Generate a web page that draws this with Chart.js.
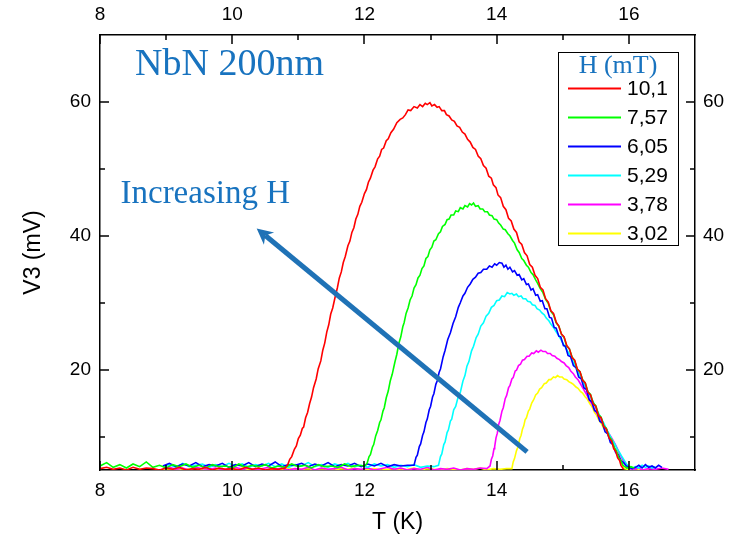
<!DOCTYPE html>
<html>
<head>
<meta charset="utf-8">
<title>NbN 200nm - V3 vs T</title>
<script src="https://cdn.jsdelivr.net/npm/chart.js@4.4.1/dist/chart.umd.min.js"></script>
<style>
  html, body { margin: 0; padding: 0; background: #fff; }
</style>
</head>
<body>
<canvas id="v3Chart" width="738" height="537"></canvas>
<script>
// field values (mT) and trace colours, one per sweep
const fieldLabels = ['10,1', '7,57', '6,05', '5,29', '3,78', '3,02'];
const lineColors = ['#ff0000', '#00ff00', '#0000ff', '#00ffff', '#ff00ff', '#ffff00'];

// axis ticks
const xMajorTicks = [8, 10, 12, 14, 16];
const xMinorTicks = [9, 11, 13, 15];
const yMajorTicks = [20, 40, 60];
const yMinorTicks = [10, 30, 50];

// V3 (mV) against T (K) for each field, [T, V3]
const h101 = [
  [8.0,5.2],[8.1,5.4],[8.2,5.1],[8.3,5.3],[8.4,5.0],[8.5,5.4],[8.6,5.1],[8.7,5.3],[8.8,5.2],[8.9,5.0],
  [9.0,5.3],[9.1,5.1],[9.2,5.4],[9.3,5.0],[9.4,5.2],[9.5,5.1],[9.6,5.4],[9.7,5.0],[9.8,5.3],[9.9,5.1],
  [10.0,5.2],[10.1,5.0],[10.2,5.4],[10.3,5.1],[10.4,5.3],[10.5,5.0],[10.6,5.2],[10.7,5.1],[10.8,5.3],
  [10.84,5.8],[10.87,6.6],[10.9,7.0],[10.94,8.1],[10.97,8.6],[11.0,9.7],[11.03,10.2],[11.06,11.2],[11.08,11.4],
  [11.11,12.8],[11.14,13.6],[11.17,14.9],[11.2,15.9],[11.23,17.3],[11.27,18.6],[11.3,20.1],[11.34,21.3],
  [11.37,22.9],[11.4,24.0],[11.43,25.6],[11.46,26.7],[11.49,28.3],[11.52,29.2],[11.56,31.0],[11.59,32.2],
  [11.62,33.7],[11.65,34.6],[11.68,36.0],[11.71,36.9],[11.75,38.5],[11.78,39.2],[11.81,40.5],[11.84,41.2],
  [11.87,42.5],[11.9,43.2],[11.93,44.4],[11.96,45.0],[12.0,46.3],[12.03,46.9],[12.06,48.0],[12.09,48.6],
  [12.13,49.8],[12.16,50.3],[12.2,51.5],[12.23,51.9],[12.26,52.9],[12.29,53.1],[12.33,54.2],[12.36,54.5],
  [12.4,55.4],[12.44,55.9],[12.49,56.9],[12.54,57.4],[12.58,57.6],[12.62,58.1],[12.66,58.8],[12.7,58.7],
  [12.75,59.3],[12.8,59.1],[12.84,59.6],[12.88,59.3],[12.92,59.8],[12.95,59.6],[12.99,59.9],[13.02,59.4],
  [13.06,59.6],[13.1,59.2],[13.13,59.3],[13.17,58.7],[13.21,58.7],[13.24,58.1],[13.28,57.9],[13.32,57.3],
  [13.36,57.1],[13.4,56.4],[13.44,56.2],[13.48,55.5],[13.52,55.2],[13.56,54.4],[13.6,54.0],[13.64,53.2],
  [13.68,52.9],[13.72,51.9],[13.76,51.5],[13.8,50.5],[13.84,50.1],[13.88,48.9],[13.92,48.6],[13.95,47.6],
  [13.99,47.2],[14.02,46.1],[14.06,45.7],[14.1,44.4],[14.14,43.9],[14.18,42.6],[14.22,42.2],[14.26,41.0],
  [14.3,40.5],[14.34,39.1],[14.38,38.7],[14.42,37.5],[14.46,37.0],[14.5,35.7],[14.54,35.3],[14.58,34.1],
  [14.62,33.6],[14.66,32.3],[14.7,31.9],[14.74,30.6],[14.78,30.1],[14.82,28.8],[14.86,28.4],[14.9,27.1],
  [14.94,26.5],[14.98,25.3],[15.02,24.9],[15.06,23.6],[15.1,23.1],[15.14,21.8],[15.18,21.4],[15.22,20.1],
  [15.26,19.7],[15.3,18.4],[15.34,18.0],[15.38,16.6],[15.42,16.2],[15.46,14.9],[15.5,14.5],[15.54,13.1],
  [15.58,12.8],[15.62,11.5],[15.66,11.1],[15.7,9.8],[15.74,9.3],[15.77,8.2],[15.8,7.8],[15.83,6.8],
  [15.86,6.4],[15.88,5.7],[15.92,5.1]
];
const h757 = [
  [8.0,5.6],[8.1,6.1],[8.2,5.4],[8.3,5.8],[8.4,5.3],[8.5,5.9],[8.6,5.5],[8.7,6.2],[8.8,5.4],[8.9,5.7],
  [9.0,5.3],[9.1,5.8],[9.2,5.5],[9.3,5.9],[9.4,5.4],[9.5,5.7],[9.6,5.3],[9.7,5.8],[9.8,5.5],[9.9,5.6],
  [10.0,5.3],[10.1,5.9],[10.2,5.4],[10.3,5.7],[10.4,5.5],[10.5,5.8],[10.6,5.3],[10.7,5.6],[10.8,5.4],[10.9,5.9],
  [11.0,5.5],[11.1,5.7],[11.2,5.3],[11.3,5.8],[11.4,5.5],[11.5,5.6],[11.6,5.4],[11.7,5.9],[11.8,5.5],[11.9,5.7],
  [12.0,5.6],
  [12.04,6.0],[12.07,7.0],[12.09,7.3],[12.12,8.4],[12.14,8.8],[12.17,10.1],[12.2,10.9],[12.23,12.1],
  [12.25,12.5],[12.28,13.8],[12.3,14.3],[12.33,15.8],[12.36,16.8],[12.39,18.3],[12.42,19.3],[12.46,21.1],
  [12.49,22.3],[12.52,23.9],[12.55,24.9],[12.58,26.4],[12.6,27.0],[12.63,28.4],[12.66,29.2],[12.69,30.4],
  [12.72,31.0],[12.75,32.2],[12.78,32.7],[12.81,33.7],[12.84,34.1],[12.87,35.1],[12.9,35.5],[12.93,36.6],
  [12.96,36.9],[12.99,37.9],[13.02,38.3],[13.05,39.2],[13.08,39.4],[13.12,40.3],[13.15,40.6],[13.18,41.4],
  [13.22,41.7],[13.25,42.4],[13.28,42.5],[13.31,43.1],[13.35,43.1],[13.38,43.7],[13.42,43.6],[13.45,44.2],
  [13.49,44.0],[13.52,44.5],[13.56,44.3],[13.59,44.8],[13.62,44.6],[13.65,44.9],[13.68,44.4],[13.72,44.5],
  [13.75,44.0],[13.79,44.0],[13.82,43.6],[13.86,43.6],[13.89,43.1],[13.93,43.0],[13.96,42.5],[14.0,42.4],
  [14.03,41.9],[14.06,41.6],[14.1,41.0],[14.13,40.9],[14.17,40.3],[14.2,40.0],[14.24,39.3],[14.27,38.9],
  [14.31,37.9],[14.34,37.5],[14.38,36.6],[14.41,36.3],[14.45,35.6],[14.48,35.3],[14.52,34.5],[14.55,34.2],
  [14.59,33.4],[14.62,32.9],[14.66,32.1],[14.7,31.5],[14.74,30.5],[14.78,29.9],[14.82,28.7],[14.86,28.2],
  [14.9,27.0],[14.94,26.5],[14.98,25.3],[15.02,24.8],[15.06,23.5],[15.1,23.1],[15.14,21.9],[15.18,21.3],
  [15.22,20.0],[15.26,19.7],[15.3,18.5],[15.34,18.0],[15.38,16.7],[15.42,16.3],[15.46,15.0],[15.5,14.6],
  [15.54,13.3],[15.58,12.9],[15.62,11.6],[15.66,11.2],[15.7,10.0],[15.74,9.5],[15.78,8.3],[15.81,7.9],
  [15.85,6.8],[15.88,6.4],[15.91,5.7],[15.97,5.3],[16.03,5.5],[16.08,5.3]
];
const h605 = [
  [8.95,5.6],[9.05,6.0],[9.15,5.5],[9.25,5.9],[9.35,5.6],[9.45,6.1],[9.55,5.5],[9.65,5.8],[9.75,5.6],[9.85,6.0],
  [9.95,5.4],[10.05,5.8],[10.15,5.6],[10.25,6.1],[10.35,5.5],[10.45,5.9],[10.55,5.6],[10.65,6.2],[10.75,5.5],[10.85,5.8],
  [10.95,5.7],[11.05,6.0],[11.15,5.5],[11.25,5.9],[11.35,5.6],[11.45,6.1],[11.55,5.5],[11.65,5.8],[11.75,5.6],[11.85,6.0],
  [11.95,5.5],[12.05,5.9],[12.15,5.6],[12.25,6.0],[12.35,5.5],[12.45,5.8],[12.55,5.6],[12.65,5.7],
  [12.75,5.7],[12.78,6.9],[12.8,7.2],[12.83,8.5],[12.85,8.9],[12.88,10.2],[12.9,10.7],[12.93,12.1],
  [12.95,12.6],[12.98,14.0],[13.0,14.5],[13.03,15.9],[13.05,16.4],[13.08,17.8],[13.1,18.3],[13.13,19.6],
  [13.15,20.1],[13.19,21.9],[13.22,22.9],[13.26,24.5],[13.3,25.5],[13.34,26.9],[13.38,27.9],[13.42,29.3],
  [13.45,30.0],[13.49,31.0],[13.52,31.4],[13.56,32.3],[13.6,32.8],[13.64,33.5],[13.68,33.8],[13.72,34.4],
  [13.76,34.5],[13.8,35.0],[13.85,35.0],[13.89,35.5],[13.93,35.3],[13.97,35.8],[14.0,35.6],[14.04,36.0],
  [14.08,35.9],[14.11,35.3],[14.14,35.6],[14.17,35.0],[14.2,35.3],[14.24,34.6],[14.27,34.8],[14.31,34.1],
  [14.34,34.2],[14.38,33.4],[14.41,33.6],[14.45,32.7],[14.48,32.8],[14.52,31.9],[14.55,32.1],[14.59,31.1],
  [14.62,31.2],[14.66,30.2],[14.69,30.3],[14.73,29.1],[14.76,29.1],[14.8,27.8],[14.83,27.7],[14.87,26.3],
  [14.9,26.2],[14.94,25.0],[14.97,24.9],[15.01,23.6],[15.04,23.5],[15.08,22.1],[15.12,21.9],[15.16,20.6],
  [15.2,20.3],[15.24,18.9],[15.28,18.6],[15.32,17.3],[15.36,17.0],[15.4,15.5],[15.44,15.2],[15.48,13.9],
  [15.52,13.6],[15.56,12.3],[15.6,12.0],[15.64,10.7],[15.68,10.4],[15.72,9.1],[15.76,8.8],[15.8,7.6],
  [15.84,7.3],[15.88,6.4],[15.92,6.1],[15.96,5.6],[16.0,5.4],[16.05,5.2],
  [16.1,5.4],[16.15,5.7],[16.2,5.3],[16.25,5.8],[16.3,5.4],[16.35,5.6],[16.4,5.3],[16.45,5.7],[16.5,5.4]
];
const h529 = [
  [8.95,5.5],[9.05,5.8],[9.15,5.4],[9.25,6.0],[9.35,5.5],[9.45,5.7],[9.55,5.9],[9.65,5.4],[9.75,5.8],[9.85,5.5],
  [9.95,6.0],[10.05,5.6],[10.15,5.9],[10.25,5.4],[10.35,5.8],[10.45,5.6],[10.55,6.0],[10.65,5.5],[10.75,5.9],[10.85,5.4],
  [10.95,5.8],[11.05,5.6],[11.15,6.1],[11.25,5.5],[11.35,5.8],[11.45,5.4],[11.55,5.9],[11.65,5.6],[11.75,6.0],[11.85,5.5],
  [11.95,5.7],[12.05,5.4],[12.15,5.9],[12.25,5.6],[12.35,5.8],[12.45,5.4],[12.55,5.7],[12.65,5.5],[12.75,5.8],[12.85,5.4],
  [12.95,5.6],[13.05,5.5],
  [13.12,5.7],[13.15,7.0],[13.17,7.4],[13.2,8.8],[13.22,9.2],[13.25,10.6],[13.27,11.0],[13.3,12.3],
  [13.32,12.6],[13.35,14.0],[13.38,14.5],[13.42,16.0],[13.45,16.6],[13.49,18.3],[13.52,19.1],[13.55,20.5],
  [13.58,21.2],[13.62,22.8],[13.65,23.5],[13.69,24.8],[13.72,25.3],[13.76,26.5],[13.8,27.0],[13.84,28.0],
  [13.88,28.4],[13.92,29.3],[13.96,29.6],[14.0,30.3],[14.04,30.4],[14.08,31.0],[14.12,30.9],[14.16,31.5],
  [14.2,31.3],[14.23,31.4],[14.26,31.1],[14.3,31.3],[14.33,30.9],[14.37,31.0],[14.4,30.6],[14.44,30.6],
  [14.47,30.2],[14.51,30.1],[14.54,29.7],[14.58,29.6],[14.61,29.1],[14.65,28.9],[14.68,28.5],[14.72,28.2],
  [14.75,27.7],[14.79,27.3],[14.82,26.8],[14.86,26.3],[14.89,25.8],[14.93,25.2],[14.96,24.7],[15.0,24.0],
  [15.03,23.5],[15.07,22.8],[15.1,22.3],[15.14,21.5],[15.18,20.7],[15.22,20.0],[15.26,19.1],[15.3,18.4],
  [15.34,17.5],[15.38,16.7],[15.42,15.8],[15.46,15.2],[15.5,14.3],[15.54,13.5],[15.58,12.7],[15.62,12.0],
  [15.66,11.1],[15.7,10.4],[15.74,9.6],[15.78,9.0],[15.82,8.2],[15.86,7.6],[15.9,6.9],[15.94,6.3],
  [15.97,5.8],[16.04,5.2],
  [16.1,5.5],[16.15,5.3],[16.2,5.7],[16.25,5.4],[16.3,5.6],[16.35,5.3],[16.4,5.5]
];
const h378 = [
  [8.95,5.2],[9.05,5.4],[9.15,5.1],[9.25,5.3],[9.35,5.0],[9.45,5.4],[9.55,5.2],[9.65,5.1],[9.75,5.3],[9.85,5.0],
  [9.95,5.2],[10.05,5.4],[10.15,5.1],[10.25,5.3],[10.35,5.0],[10.45,5.2],[10.55,5.4],[10.65,5.1],[10.75,5.3],[10.85,5.0],
  [10.95,5.2],[11.05,5.1],[11.15,5.4],[11.25,5.0],[11.35,5.3],[11.45,5.1],[11.55,5.2],[11.65,5.4],[11.75,5.0],[11.85,5.2],
  [11.95,5.1],[12.05,5.3],[12.15,5.0],[12.25,5.2],[12.35,5.4],[12.45,5.1],[12.55,5.3],[12.65,5.0],[12.75,5.2],[12.85,5.1],
  [12.95,5.4],[13.05,5.0],[13.15,5.2],[13.25,5.1],[13.35,5.3],[13.45,5.0],[13.55,5.2],[13.65,5.1],[13.75,5.3],[13.85,5.2],
  [13.9,5.6],[13.92,6.6],[13.94,7.1],[13.96,8.2],[13.97,8.5],[13.99,9.8],[14.01,10.5],[14.03,11.8],
  [14.05,12.4],[14.08,13.8],[14.1,14.3],[14.13,15.7],[14.15,16.1],[14.18,17.3],[14.2,17.6],[14.23,18.6],
  [14.25,18.8],[14.28,19.8],[14.3,19.9],[14.33,20.6],[14.36,20.8],[14.39,21.4],[14.42,21.5],[14.46,22.0],
  [14.49,22.0],[14.53,22.5],[14.56,22.4],[14.6,22.8],[14.63,22.6],[14.67,22.9],[14.7,22.7],[14.74,22.7],
  [14.77,22.4],[14.81,22.4],[14.84,22.1],[14.88,22.0],[14.91,21.7],[14.95,21.5],[14.98,21.2],[15.02,21.0],
  [15.05,20.6],[15.09,20.3],[15.12,19.8],[15.16,19.4],[15.19,18.9],[15.23,18.5],[15.26,18.0],[15.3,17.3],
  [15.33,16.8],[15.37,16.1],[15.4,15.5],[15.44,14.9],[15.47,14.2],[15.51,13.6],[15.54,13.0],[15.58,12.4],
  [15.61,11.8],[15.65,11.3],[15.68,10.7],[15.72,10.1],[15.75,9.6],[15.79,8.9],[15.82,8.3],[15.85,7.6],
  [15.88,7.1],[15.91,6.5],[15.94,6.1],[15.97,5.6],[16.0,5.3],[16.04,5.1],
  [16.08,5.1],[16.15,5.3],[16.2,5.0],[16.3,5.2],[16.4,5.1],[16.5,5.3],[16.6,5.1]
];
const h302 = [
  [8.95,5.1],[9.05,5.2],[9.15,5.0],[9.25,5.2],[9.35,5.1],[9.45,5.3],[9.55,5.0],[9.65,5.2],[9.75,5.1],[9.85,5.0],
  [9.95,5.2],[10.05,5.1],[10.15,5.3],[10.25,5.0],[10.35,5.1],[10.45,5.2],[10.55,5.0],[10.65,5.2],[10.75,5.1],[10.85,5.3],
  [10.95,5.0],[11.05,5.1],[11.15,5.2],[11.25,5.0],[11.35,5.2],[11.45,5.1],[11.55,5.0],[11.65,5.2],[11.75,5.1],[11.85,5.3],
  [11.95,5.0],[12.05,5.1],[12.15,5.2],[12.25,5.0],[12.35,5.1],[12.45,5.2],[12.55,5.0],[12.65,5.1],[12.75,5.3],[12.85,5.0],
  [12.95,5.2],[13.05,5.1],[13.15,5.0],[13.25,5.2],[13.35,5.1],[13.45,5.0],[13.55,5.2],[13.65,5.1],[13.75,5.3],[13.85,5.0],
  [13.95,5.2],[14.05,5.1],[14.15,5.2],
  [14.23,5.2],[14.25,6.2],[14.27,6.7],[14.3,7.9],[14.32,8.4],[14.35,9.7],[14.37,10.2],[14.39,11.1],
  [14.41,11.6],[14.43,12.5],[14.45,12.8],[14.48,13.8],[14.5,14.1],[14.53,15.0],[14.56,15.5],[14.59,16.2],
  [14.62,16.5],[14.65,17.1],[14.68,17.3],[14.72,17.9],[14.75,18.0],[14.79,18.5],[14.82,18.5],[14.86,18.9],
  [14.89,18.8],[14.92,19.1],[14.95,18.9],[14.99,18.9],[15.02,18.6],[15.06,18.5],[15.09,18.2],[15.13,18.0],
  [15.16,17.8],[15.2,17.4],[15.23,17.2],[15.27,16.7],[15.3,16.5],[15.34,15.9],[15.37,15.6],[15.41,14.9],
  [15.44,14.5],[15.48,13.6],[15.51,13.2],[15.55,12.4],[15.58,12.0],[15.62,11.2],[15.65,10.9],[15.69,10.1],
  [15.72,9.8],[15.75,8.9],[15.78,8.5],[15.81,7.7],[15.84,7.2],[15.87,6.4],[15.89,6.0],[15.93,5.2],
  [15.98,5.1],[16.1,5.2],[16.2,5.0],[16.3,5.1]
];

const sweeps = [h101, h757, h605, h529, h378, h302];

const SANS = '"Liberation Sans", Arial, sans-serif';
const SERIF = '"Liberation Serif", "Times New Roman", serif';
const NOTE_BLUE = '#1873bf';

// inward major/minor tick marks on all four sides of the frame
const innerTicks = {
  id: 'innerTicks',
  afterDatasetsDraw(chart) {
    const { ctx, chartArea: a, scales } = chart;
    ctx.save();
    ctx.strokeStyle = '#000';
    ctx.lineWidth = 1.5;
    ctx.beginPath();
    xMajorTicks.concat(xMinorTicks).forEach(v => {
      const len = xMajorTicks.includes(v) ? 9 : 5;
      const px = Math.round(scales.x.getPixelForValue(v));
      ctx.moveTo(px, a.bottom);
      ctx.lineTo(px, a.bottom - len);
      ctx.moveTo(px, a.top);
      ctx.lineTo(px, a.top + len);
    });
    yMajorTicks.concat(yMinorTicks).forEach(v => {
      const len = yMajorTicks.includes(v) ? 9 : 5;
      const py = Math.round(scales.y.getPixelForValue(v));
      ctx.moveTo(a.left, py);
      ctx.lineTo(a.left + len, py);
      ctx.moveTo(a.right, py);
      ctx.lineTo(a.right - len, py);
    });
    ctx.stroke();
    ctx.restore();
  }
};

// sample label and the "increasing H" arrow
const notes = {
  id: 'notes',
  afterDatasetsDraw(chart) {
    const { ctx, scales: { x, y } } = chart;
    ctx.save();
    ctx.fillStyle = NOTE_BLUE;
    ctx.textBaseline = 'alphabetic';
    ctx.textAlign = 'left';
    ctx.font = '38px ' + SERIF;
    ctx.fillText('NbN 200nm', x.getPixelForValue(8.53), y.getPixelForValue(64.0));
    ctx.font = '33px ' + SERIF;
    ctx.fillText('Increasing H', x.getPixelForValue(8.31), y.getPixelForValue(44.9));

    const x0 = x.getPixelForValue(14.46), y0 = y.getPixelForValue(7.7);
    const x1 = x.getPixelForValue(10.37), y1 = y.getPixelForValue(41.1);
    const ang = Math.atan2(y1 - y0, x1 - x0);
    const c = Math.cos(ang), s = Math.sin(ang);
    const head = 16, half = 8;
    ctx.strokeStyle = '#1f72b6';
    ctx.fillStyle = '#1f72b6';
    ctx.lineWidth = 5;
    ctx.beginPath();
    ctx.moveTo(x0, y0);
    ctx.lineTo(x1 - c * head * 0.7, y1 - s * head * 0.7);
    ctx.stroke();
    ctx.beginPath();
    ctx.moveTo(x1, y1);
    ctx.lineTo(x1 - c * head - s * half, y1 - s * head + c * half);
    ctx.lineTo(x1 - c * head * 0.7, y1 - s * head * 0.7);
    ctx.lineTo(x1 - c * head + s * half, y1 - s * head - c * half);
    ctx.closePath();
    ctx.fill();
    ctx.restore();
  }
};

// boxed legend in the upper right corner of the plot
const boxLegend = {
  id: 'boxLegend',
  afterDraw(chart) {
    const { ctx, chartArea: a } = chart;
    const left = a.right - 137, top = a.top + 17, w = 120, h = 193;
    ctx.save();
    ctx.fillStyle = '#fff';
    ctx.fillRect(left, top, w, h);
    ctx.strokeStyle = '#000';
    ctx.lineWidth = 1;
    ctx.strokeRect(left + 0.5, top + 0.5, w, h);

    ctx.fillStyle = NOTE_BLUE;
    ctx.font = '26px ' + SERIF;
    ctx.textAlign = 'center';
    ctx.textBaseline = 'alphabetic';
    ctx.fillText('H (mT)', left + 60, top + 21);

    ctx.font = '21px ' + SANS;
    ctx.textAlign = 'left';
    ctx.textBaseline = 'middle';
    chart.data.datasets.forEach((ds, i) => {
      const ry = top + 36.5 + i * 29;
      ctx.strokeStyle = ds.borderColor;
      ctx.lineWidth = 2;
      ctx.beginPath();
      ctx.moveTo(left + 10, ry);
      ctx.lineTo(left + 63, ry);
      ctx.stroke();
      ctx.fillStyle = '#000';
      ctx.fillText(ds.label, left + 69, ry + 1);
    });
    ctx.restore();
  }
};

const tickFont = { family: SANS, size: 19 };
const titleFont = { family: SANS, size: 23 };
const frame = { display: true, color: '#000', width: 1.5 };
const noGrid = { drawOnChartArea: false, drawTicks: false };

const ctx = document.getElementById('v3Chart').getContext('2d');
const chart = new Chart(ctx, {
  type: 'line',
  data: {
    datasets: sweeps.map((pts, i) => ({
      label: fieldLabels[i],
      data: pts.map(([t, v]) => ({ x: t, y: v })),
      borderColor: lineColors[i],
      borderWidth: 1.6,
      pointRadius: 0,
      tension: 0,
      fill: false
    }))
  },
  options: {
    responsive: false,
    animation: false,
    layout: { padding: 0 },
    scales: {
      x: {
        type: 'linear', position: 'bottom', min: 8, max: 17,
        afterBuildTicks: s => { s.ticks = xMajorTicks.map(v => ({ value: v })); },
        afterFit: s => { s.height = 67; },
        grid: noGrid, border: frame,
        ticks: { padding: 9, color: '#000', font: tickFont, maxRotation: 0 },
        title: { display: true, text: 'T (K)', color: '#000', font: titleFont, padding: { top: 0, bottom: 1 } }
      },
      xTop: {
        type: 'linear', position: 'top', min: 8, max: 17,
        afterBuildTicks: s => { s.ticks = xMajorTicks.map(v => ({ value: v })); },
        afterFit: s => { s.height = 35; },
        grid: noGrid, border: frame,
        ticks: { padding: 9, color: '#000', font: tickFont, maxRotation: 0 }
      },
      y: {
        type: 'linear', position: 'left', min: 5, max: 70,
        afterBuildTicks: s => { s.ticks = yMajorTicks.map(v => ({ value: v })); },
        afterFit: s => { s.width = 100; },
        grid: noGrid, border: frame,
        ticks: { padding: 9, color: '#000', font: tickFont },
        title: { display: true, text: 'V3 (mV)', color: '#000', font: titleFont, padding: { top: 20, bottom: 0 } }
      },
      yRight: {
        type: 'linear', position: 'right', min: 5, max: 70,
        afterBuildTicks: s => { s.ticks = yMajorTicks.map(v => ({ value: v })); },
        afterFit: s => { s.width = 43; },
        grid: noGrid, border: frame,
        ticks: { padding: 8, color: '#000', font: tickFont }
      }
    },
    plugins: {
      legend: { display: false },
      tooltip: { enabled: false }
    }
  },
  plugins: [innerTicks, notes, boxLegend]
});
</script>
</body>
</html>
